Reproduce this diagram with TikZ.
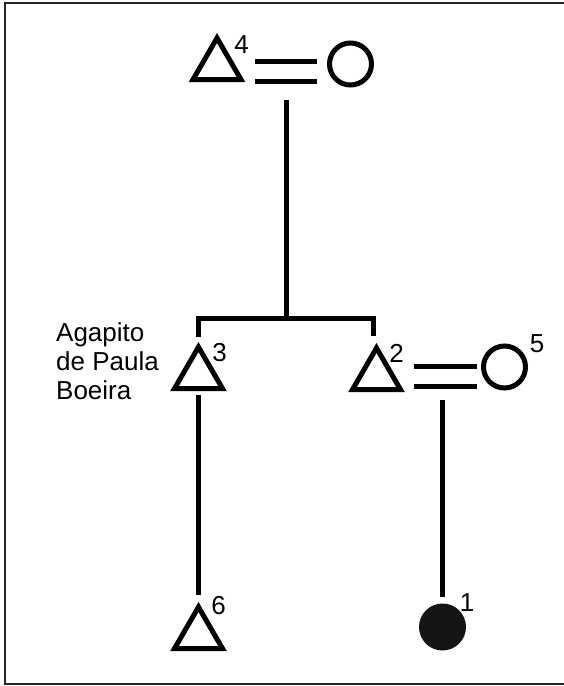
\documentclass[tikz,border=0pt]{standalone}
\usepackage{fontspec}
\setmainfont{Liberation Sans}
\usetikzlibrary{shapes.geometric}
\begin{document}
\begin{tikzpicture}[x=1pt,y=-1pt,
  male/.style={draw=black,line width=5pt,regular polygon,regular polygon sides=3,minimum size=55.4pt,inner sep=0pt,outer sep=0pt,line join=miter},
  female/.style={draw=black,line width=5pt,circle,minimum size=42pt,inner sep=0pt,outer sep=0pt},
  affected/.style={fill=black!92,circle,minimum size=47pt,inner sep=0pt,outer sep=0pt},
  lnk/.style={line width=5pt,line join=miter},
  num/.style={inner sep=0pt,font=\fontsize{26}{30}\selectfont},
  ]
\useasboundingbox (0,0) rectangle (563,686);
\draw[line width=2pt,black!85] (600,3) -- (5,3) -- (5,684) -- (600,684);

% individuals
\node[male] (t4) at (217,65.7) {};
\node[female] (c4) at (350.5,64) {};
\node[male] (t3) at (198.5,374.7) {};
\node[male] (t2) at (376.5,375.7) {};
\node[female] (c5) at (504.5,367) {};
\node[male] (t6) at (198.5,634.7) {};
\node[affected] (f1) at (442.5,627) {};

% numbers
\node[num] (n4) at (241.5,44.5) {4};
\node[num] (n3) at (219.5,353) {3};
\node[num] (n2) at (396.5,353) {2};
\node[num] (n5) at (537,344) {5};
\node[num] (n6) at (218.5,605.5) {6};
\node[num] (n1) at (467,603) {1};

% name
\node[anchor=west,align=left,inner sep=0pt,font=\fontsize{26}{29}\selectfont] (name3) at (56,361) {Agapito\\de Paula\\Boeira};

% marriage 4
\coordinate (a4u) at (255,61);
\coordinate (b4u) at (317,61);
\coordinate (a4l) at (255,81);
\coordinate (b4l) at (317,81);
\draw[lnk] (a4u) -- (b4u);
\draw[lnk] (a4l) -- (b4l);
\coordinate (m4) at (286,100);
\coordinate (j) at (286,318);
\coordinate (s3) at (198.5,337);
\coordinate (s2) at (373,336);
\draw[lnk] (m4) -- (j);
\draw[lnk] (s3) |- (j) -| (s2);

% 3 -> 6
\draw[lnk] ([yshift=-6pt]t3.south) -- ([yshift=12pt]t6.north);

% marriage 2-5
\coordinate (a2u) at (414,366);
\coordinate (b2u) at (477,366);
\coordinate (a2l) at (414,386);
\coordinate (b2l) at (477,386);
\draw[lnk] (a2u) -- (b2u);
\draw[lnk] (a2l) -- (b2l);
\coordinate (m2) at (442.5,400);
\draw[lnk] (m2) -- ([yshift=6.5pt]f1.north);
\end{tikzpicture}
\end{document}
